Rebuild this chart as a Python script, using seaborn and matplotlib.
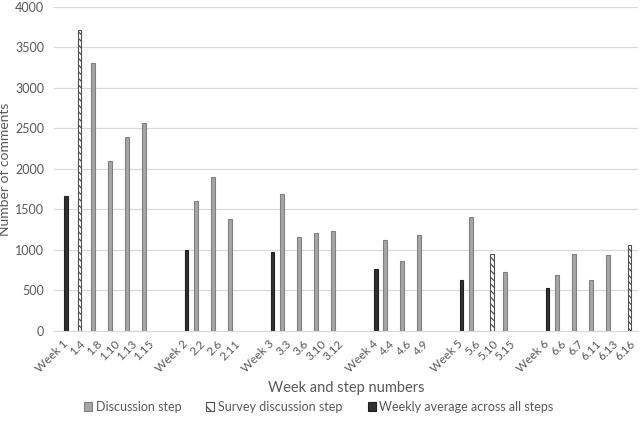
import numpy as np
import pandas as pd
import matplotlib
matplotlib.use("Agg")
import matplotlib.pyplot as plt
import matplotlib.patches as mpatches
import seaborn as sns

# Data
steps = ["Week 1", "1.4", "1.8", "1.10", "1.13", "1.15",
         "Week 2", "2.2", "2.6", "2.11",
         "Week 3", "3.3", "3.6", "3.10", "3.12",
         "Week 4", "4.4", "4.6", "4.9",
         "Week 5", "5.6", "5.10", "5.15",
         "Week 6", "6.6", "6.7", "6.11", "6.13", "6.16"]
comments = [1665, 3715, 3300, 2100, 2395, 2560,
            995, 1605, 1895, 1380,
            970, 1685, 1165, 1210, 1230,
            770, 1120, 865, 1190,
            625, 1405, 950, 730,
            525, 690, 950, 625, 935, 1060]
D, S, W = "Discussion step", "Survey discussion step", "Weekly average across all steps"
kinds = [W, S, D, D, D, D,
         W, D, D, D,
         W, D, D, D, D,
         W, D, D, D,
         W, D, S, D,
         W, D, D, D, D, S]
series = [D, S, W]
colors = {D: "#a6a6a6", S: "#ffffff", W: "#303030"}

df = pd.DataFrame({"step": steps, "comments": comments, "kind": kinds})

# category order with an empty slot before each new week
order = []
tick_labels = []
for s in steps:
    if s.startswith("Week") and s != "Week 1":
        order.append(" " * (len(order) + 1))
        tick_labels.append("")
    order.append(s)
    tick_labels.append(s)

sns.set_style("white")
plt.rcParams["font.family"] = ["Lato", "DejaVu Sans"]
plt.rcParams["hatch.linewidth"] = 0.9
plt.rcParams["hatch.color"] = "#505050"

fig, ax = plt.subplots(figsize=(6.4, 4.22), dpi=100)
fig.subplots_adjust(left=0.084, right=0.997, top=0.984, bottom=0.2156)

sns.barplot(data=df, x="step", y="comments", hue="kind", order=order,
            hue_order=series, palette=colors, width=0.68, dodge=True,
            legend=False, ax=ax, linewidth=0.8)

edge = {D: "#808080", S: "#505050", W: "#202020"}
for cont, name in zip(ax.containers, series):
    for bar in cont:
        bar.set_edgecolor(edge[name])
        if name == S:
            bar.set_facecolor("white")
            bar.set_hatch("\\\\\\\\\\")

ax.set_ylim(0, 4000)
ax.set_yticks(np.arange(0, 4001, 500))
ax.set_xlim(-0.5, len(order) - 0.5)
ax.set_xticks(range(len(order)))
ax.set_xticklabels(tick_labels, rotation=45, ha="right", rotation_mode="anchor")
ax.tick_params(axis="x", length=0, labelsize=8.5, labelcolor="#595959", pad=5)
ax.tick_params(axis="y", length=0, labelsize=9, labelcolor="#595959", pad=7)
ax.yaxis.grid(True, color="#d9d9d9", linewidth=0.9)
ax.set_axisbelow(True)
for sp in ["top", "right", "left"]:
    ax.spines[sp].set_visible(False)
ax.spines["bottom"].set_color("#d9d9d9")

ax.set_xlabel("Week and step numbers", fontsize=10.5, color="#595959", labelpad=5)
ax.set_ylabel("Number of comments", fontsize=10, color="#595959", labelpad=3)

handles = [mpatches.Patch(facecolor=colors[D], edgecolor=edge[D], linewidth=0.8, label=D),
           mpatches.Patch(facecolor="white", edgecolor=edge[S], hatch="\\\\", linewidth=0.8, label=S),
           mpatches.Patch(facecolor=colors[W], edgecolor=edge[W], linewidth=0.8, label=W)]
fig.legend(handles=handles, loc="center", bbox_to_anchor=(0.498, 0.036), ncol=3,
           frameon=False, fontsize=9, labelcolor="#595959",
           handlelength=0.65, handleheight=0.65, handletextpad=0.3, columnspacing=2.0)

plt.savefig("out.png", dpi=100)
